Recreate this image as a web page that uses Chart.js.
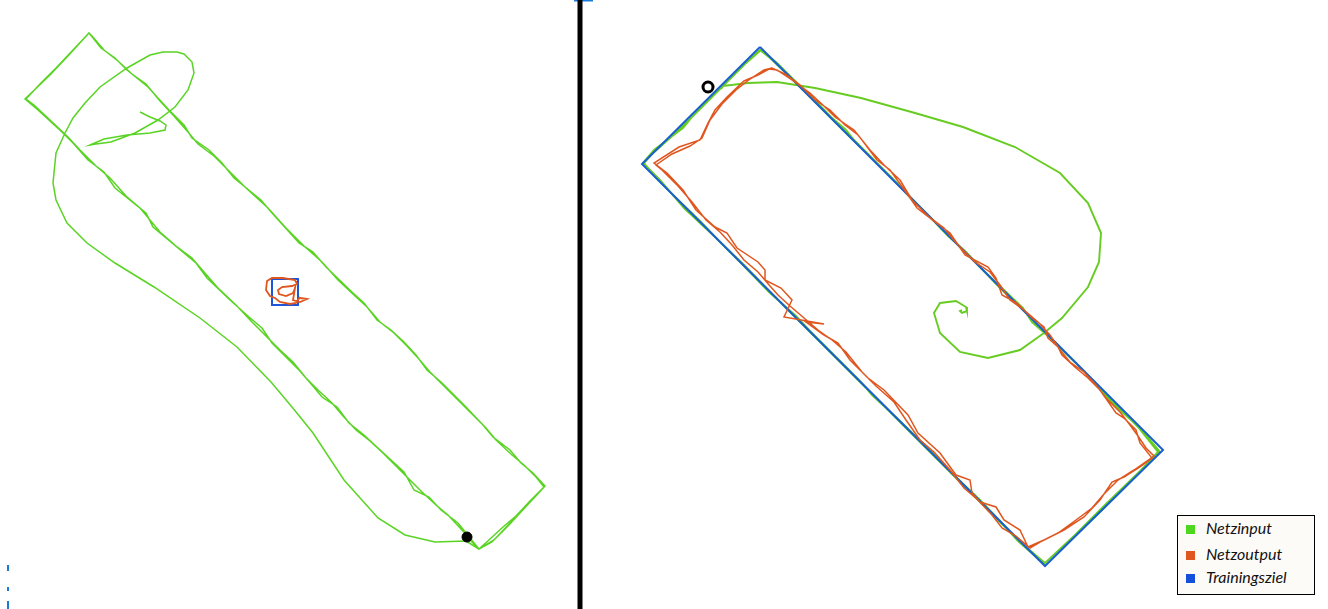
<!DOCTYPE html>
<html>
<head>
<meta charset="utf-8">
<script src="https://cdn.jsdelivr.net/npm/chart.js@4"></script>
<style>
  body { margin: 0; background: #fff; overflow: hidden; }
  #wrap { position: relative; width: 1328px; height: 609px; }
  #legend {
    position: absolute; left: 1177px; top: 515px; width: 136px; height: 78px;
    border: 1.5px solid #000; background: #fdfbf8;
    font-family: "Lato", sans-serif; font-style: italic; font-size: 16px; color: #111;
  }
  .item { position: absolute; left: 8px; height: 18px; line-height: 18px; white-space: nowrap; }
  .item span { display: inline-block; width: 9px; height: 9px; margin-right: 11px; vertical-align: 0px; }
</style>
</head>
<body>
<div id="wrap">
  <canvas id="plot" width="1328" height="609"></canvas>
  <div id="legend"></div>
</div>
<script>
// Legend
const legendLabels = ['Netzinput', 'Netzoutput', 'Trainingsziel'];
const legendColors = ['#4fd61e', '#e0561f', '#1550dc'];

// Left panel: green trajectory (hook -> loop -> rectangle laps)
const leftInput = [
  [140,112],[150,117],[160,121],[166,125],[165,130],[150,133],[127,135],[104,139],[90,145],
  [96,144],[111,142],[135,133],[158,120],[175,107],[188,90],[194,73],[192,62],[184,54],[177,52],
  [163,52],[150,55],[127,68],[100,87],[85,103],[73,118],[65,133],[56,153],[53,183],[56,200],
  [67,223],[87,243],[115,263],[154,287],[200,318],[237,347],[271,382],[292,407],[313,433],
  [344,480],[378,518],[405,535],[435,542],[466,541],
  [479,549],[494,540],[510,523],[521,511],[535,497],[545,486],
  [533,473],[521,463],[510,450],[493,437],[483,425],[466,407],[456,397],[441,382],[427,370],
  [416,355],[404,342],[391,330],[377,320],[364,303],[353,293],[326,267],[313,252],[299,243],
  [272,213],[261,200],[234,178],[222,163],[209,150],[192,138],[184,125],[169,110],[157,97],
  [148,87],[127,70],[115,58],[101,48],[89,33],
  [67,57],[50,75],[25,99],
  [38,110],[63,133],[73,143],[88,160],[104,172],[115,188],[146,213],[153,227],[184,253],
  [196,263],[207,278],[230,300],[249,317],[262,328],[272,343],[284,355],[299,370],[312,385],
  [322,397],[337,407],[349,423],[364,435],[378,448],[404,472],[414,490],[429,497],[441,510],
  [458,523],[479,549],
  [492,542],[508,526],[520,513],[533,499],[544,487],
  [536,477],[524,465],[512,455],[496,440],[486,428],[470,412],[458,400],[444,386],[430,372],
  [418,358],[406,345],[394,333],[380,322],[367,307],[355,296],[338,280],[322,262],[304,246],
  [286,228],[268,208],[246,188],[230,172],[214,156],[198,144],[188,132],[173,115],[160,101],
  [146,84],[132,74],[118,61],[104,50],[92,36],[89,33],
  [72,51],[56,68],[40,84],[26,99],
  [34,105],[50,120],[68,137],[80,150],[96,166],[110,178],[126,196],[140,208],[160,232],
  [176,246],[192,258],[204,272],[218,288],[236,305],[252,322],[266,336],[280,350],[293,362],
  [306,378],[318,390],[332,403],[343,416],[356,430],[370,441],[384,454],[398,468],[410,480],
  [422,492],[436,505],[448,515],[462,530],[471,541],[479,549],
  [490,539],[503,527],[516,516],[530,501],[545,486]
];
const leftTarget = [[272,279],[298,279],[298,305],[272,305],[272,279]];
const leftOutput = [
  [300,297],[296,303],[290,304],[280,302],[275,298],[270,296],[266,290],[267,281],[272,278],
  [283,278],[295,280],[297,284],[292,286],[282,287],[278,290],[279,294],[286,296],[293,293],
  [295,288],[293,300],[300,302],[307,299],[300,298]
];
const leftStart = [[467,537]];

// Right panel
const rightTarget = [[760,47],[1163,450],[1045,566],[642,164],[760,47]];
const rightInput = [
  [723,87],[712,95],[692,117],[683,128],[667,140],[654,150],[643,163],
  [660,180],[684,208],[715,237],[740,262],[770,293],[796,316],[810,331],[835,356],[860,381],
  [872,395],[900,421],[932,452],[955,476],[980,500],[1000,521],[1018,541],[1044,564],
  [1075,535],[1105,505],[1135,476],[1160,452],
  [1140,428],[1112,403],[1085,372],[1056,343],[1032,322],[1023,308],[1005,291],[985,272],
  [965,251],[948,236],[931,218],[908,195],[885,171],[854,140],[846,130],[831,117],[812,97],
  [792,78],[777,63],[761,50],
  [745,64],[727,82],[708,101],[690,119],[670,138],[652,154],[644,163],
  [655,176],[675,197],[700,221],[718,240],[745,266],[775,297],[800,322],[828,350],[855,377],
  [878,400],[905,427],[928,450],[950,472],[975,497],[998,520],[1020,542],[1045,563],
  [1070,540],[1100,512],[1128,484],[1158,452],
  [1138,427],[1110,398],[1080,367],[1058,346],[1036,323],[1018,305],[1000,288],[978,265],
  [958,245],[940,227],[918,205],[895,181],[872,158],[850,137],[826,113],[804,91],[790,77],
  [770,58],[760,50],[742,66],[730,78],[723,86],
  [748,83],[777,82],[815,88],[861,98],[915,113],[963,127],[1015,147],[1060,173],[1088,203],
  [1101,233],[1099,262],[1088,287],[1062,318],[1044,333],[1020,350],[988,358],[960,352],
  [940,333],[934,313],[940,303],[956,301],[966,307],[967,311],[962,313],[960,311],[962,310]
];
const rightOutput = [
  [769,69],[777,70],[792,80],[810,93],[825,107],[835,117],[854,130],[862,140],[877,160],
  [890,170],[908,195],[917,208],[935,222],[950,233],[965,255],[988,267],[996,278],[1002,295],
  [1017,303],[1031,317],[1044,327],[1048,338],[1058,347],[1062,355],[1076,368],[1088,378],
  [1100,390],[1116,413],[1124,418],[1136,430],[1140,443],[1152,458],
  [1140,467],[1124,477],[1112,482],[1100,500],[1084,517],[1064,530],[1044,540],[1028,547],
  [1020,530],[1004,520],[996,507],[980,502],[972,493],[970,480],[956,475],[940,453],[918,433],
  [908,415],[884,390],[868,378],[850,360],[838,343],[824,335],[806,322],[824,324],[784,317],
  [792,300],[781,288],[765,280],[765,270],[758,262],[737,248],[727,233],[715,227],[696,210],
  [683,190],[667,173],[654,163],[679,147],[700,140],[708,123],[715,110],[727,97],[744,81],
  [758,75],[769,69],
  [772,68],[785,74],[800,85],[815,100],[830,110],[845,125],[858,135],[870,150],[884,165],
  [900,180],[912,200],[928,216],[944,228],[958,245],[975,262],[990,272],[1000,285],[1010,300],
  [1024,310],[1038,322],[1050,335],[1060,350],[1070,362],[1084,372],[1096,385],[1106,398],
  [1120,412],[1130,425],[1138,436],[1146,448],[1154,456],
  [1134,470],[1118,480],[1104,494],[1092,508],[1076,520],[1058,533],[1040,542],[1030,548],
  [1016,536],[1002,528],[992,515],[978,500],[964,488],[950,470],[934,452],[920,440],[906,420],
  [894,402],[876,386],[862,372],[846,352],[832,340],[818,330],[804,318],[790,306],[778,295],
  [770,286],[758,272],[744,260],[732,245],[720,232],[706,220],[692,202],[678,186],[662,170],
  [656,165],[672,154],[690,146],[702,138],[710,120],[722,104],[736,90],[750,79],[764,70],[772,68]
];
const rightStart = [[708,87]];

// Divider and small marks
const divider = [[580,0],[580,609]];
const topTick = [[574,0.5],[593,0.5]];
const sideTicks = [[[8,565],[8,571]], [[8,587],[8,591]], [[8,601],[8,609]]];

const pts = arr => arr.map(p => ({ x: p[0], y: p[1] }));

function line(data, color, width, order) {
  return { data: pts(data), showLine: true, borderColor: color, borderWidth: width,
           pointRadius: 0, fill: false, tension: 0, order: order };
}

const datasets = [
  line(divider, '#000', 5, 0),
  line(topTick, '#1a7ad8', 2, 0),
  line(leftOutput, '#e0561f', 1.8, 1),
  line(leftTarget, '#1f55d8', 2, 2),
  line(leftInput, '#5ad424', 1.5, 3),
  line(rightOutput, '#e0561f', 1.5, 1),
  line(rightTarget, '#1a5fd0', 2, 2),
  line(rightInput, '#66cc22', 1.9, 3),
  { data: pts(leftStart), pointRadius: 5, backgroundColor: '#000', borderColor: '#000', showLine: false, order: 0 },
  { data: pts(rightStart), pointRadius: 5, pointBorderWidth: 3, backgroundColor: '#fff', borderColor: '#000', showLine: false, order: 0 }
];
sideTicks.forEach(t => datasets.push(line(t, '#1a7ad8', 2, 0)));

new Chart(document.getElementById('plot'), {
  type: 'scatter',
  data: { datasets: datasets },
  options: {
    responsive: false,
    animation: false,
    devicePixelRatio: 1,
    layout: { padding: 0, autoPadding: false },
    plugins: { legend: { display: false }, tooltip: { enabled: false } },
    scales: {
      x: { type: 'linear', min: 0, max: 1328, display: false },
      y: { type: 'linear', min: 0, max: 609, reverse: true, display: false }
    }
  }
});

// HTML legend
const legend = document.getElementById('legend');
const tops = [3, 29, 52];
legendLabels.forEach((label, i) => {
  const div = document.createElement('div');
  div.className = 'item';
  div.style.top = tops[i] + 'px';
  div.innerHTML = '<span style="background:' + legendColors[i] + '"></span>' + label;
  legend.appendChild(div);
});
</script>
</body>
</html>
